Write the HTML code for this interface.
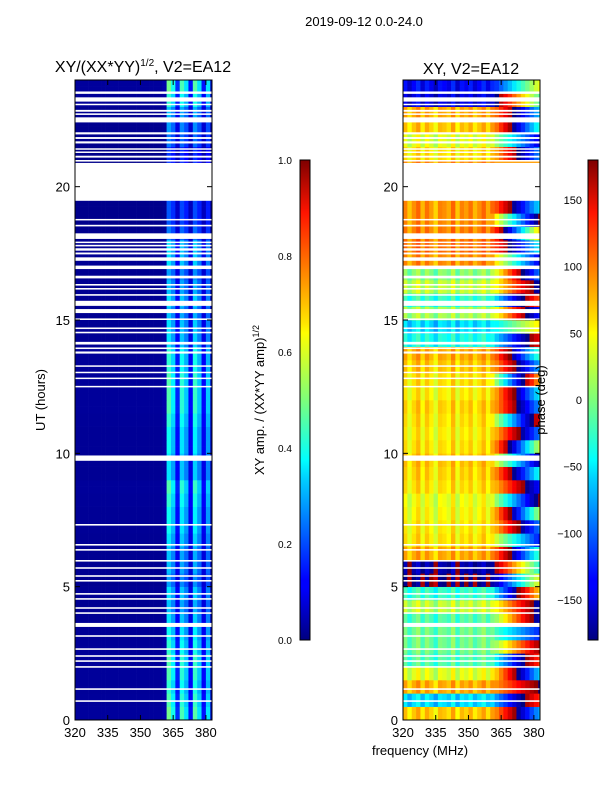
<!DOCTYPE html>
<html><head><meta charset="utf-8"><style>
body{margin:0;background:#fff;font-family:"Liberation Sans",sans-serif;}
svg text{font-family:"Liberation Sans",sans-serif;fill:#000;}
</style></head><body>
<svg id="fig" width="600" height="800" xmlns="http://www.w3.org/2000/svg">
<defs>
<linearGradient id="jet" x1="0" y1="1" x2="0" y2="0">
<stop offset="0" stop-color="#00007f"/><stop offset="0.11" stop-color="#0000ff"/><stop offset="0.125" stop-color="#0000ff"/>
<stop offset="0.34" stop-color="#00d4ff"/><stop offset="0.375" stop-color="#0ff"/><stop offset="0.5" stop-color="#7dff7a"/>
<stop offset="0.64" stop-color="#ff0"/><stop offset="0.66" stop-color="#ffe600"/><stop offset="0.89" stop-color="#ff1400"/><stop offset="1" stop-color="#7f0000"/>
</linearGradient>
</defs>
<text x="364" y="26" font-size="13" text-anchor="middle">2019-09-12 0.0-24.0</text>
<text x="143" y="72" font-size="16" text-anchor="middle">XY/(XX*YY)<tspan font-size="10" dy="-6">1/2</tspan><tspan dy="6">, V2=EA12</tspan></text>
<text x="471" y="74" font-size="16" text-anchor="middle">XY, V2=EA12</text>
<g id="left"></g>
<g id="right"></g>
<g id="axes"></g>
<rect x="300" y="160" width="10" height="480" fill="url(#jet)" stroke="#000" stroke-width="1"/>
<rect x="588" y="160" width="10" height="480" fill="url(#jet)" stroke="#000" stroke-width="1"/>
<text transform="translate(264,400) rotate(-90)" font-size="13" text-anchor="middle">XY amp. / (XX*YY amp)<tspan font-size="9" dy="-5">1/2</tspan></text>
<text transform="translate(545,400) rotate(-90)" font-size="13" text-anchor="middle">phase (deg)</text>
<text transform="translate(45,400) rotate(-90)" font-size="13" text-anchor="middle">UT (hours)</text>
<text x="420" y="755" font-size="13" text-anchor="middle">frequency (MHz)</text>
</svg>
<script>
const freqStart = 320, freqBin = 2;
const colAmp = [0.02,0.02,0.02,0.02,0.02,0.02,0.02,0.02,0.02,0.02,0.02,0.02,0.02,0.02,0.02,0.02,0.02,0.02,0.02,0.02,0.03,0.35,0.28,0.12,0.32,0.25,0.1,0.33,0.25,0.1,0.25,0.05];
const rowAmpScale = [1.4,1.3,1.2,1.3,1.3,1.2,1.1,1.0,0.9,1.0,0.8,0.9,0.9,1.0,1.1,1.1,1.2,1.3,1.0,1.0,1.1,1.1,1.2,1.3,1.3,1.3,1.2,1.2,1.0,1.0,0.9,1.0,0.9,0.8,1.0,1.0,0.7,0.6,0.6,0.6,0.5,0.5,0.5,0.7,0.8,0.9,1.2,1.4];
const phaseBase = [60,-60,70,30,-20,-10,-10,-20,20,-30,175,-170,70,50,45,40,35,50,55,60,50,45,50,55,45,50,60,70,-40,-60,10,-30,20,0,80,90,85,80,80,80,90,80,50,30,60,70,-150,-140];
const phaseSlope = [10,-8,5,12,-10,8,-5,10,8,-12,10,-10,12,-8,10,15,-10,8,12,-10,15,10,-12,10,12,-15,10,12,-8,5,10,-10,8,12,-10,10,15,-12,10,8,0,0,10,-8,12,10,-10,8];
const colPhaseOffset = [10,-15,5,20,-10,15,0,-20,10,5,-5,20,-15,10,0,15,-10,5,20,-5,10,0,0,0,0,0,0,0,0,0,0,0];
const flagStart = [23.48,23.19,23.07,22.81,22.69,22.41,21.96,21.79,21.62,21.39,21.29,21.09,20.94,19.47,18.74,18.51,18.04,17.89,17.76,17.60,17.46,17.22,16.91,16.56,16.29,16.14,15.91,15.53,15.26,15.00,14.66,14.50,14.08,13.91,13.74,13.25,13.02,12.80,12.48,9.72,7.29,6.54,6.35,5.94,5.67,5.37,5.19,4.70,4.51,4.17,3.98,3.49,3.12,2.63,2.37,2.18,1.96,1.13,0.68];
const flagEnd   = [23.57,23.35,23.11,22.88,22.75,22.60,22.04,21.86,21.70,21.44,21.32,21.16,21.00,20.89,18.79,18.57,18.25,17.94,17.82,17.69,17.53,17.35,17.04,16.66,16.35,16.20,15.97,15.72,15.41,15.06,14.72,14.56,14.18,13.97,13.82,13.30,13.06,12.84,12.53,9.92,7.35,6.60,6.41,6.00,5.73,5.43,5.25,4.76,4.57,4.23,4.04,3.64,3.18,2.69,2.43,2.24,2.02,1.19,0.74];
const xTicks = [320,335,350,365,380];
const yTicks = [0,5,10,15,20];
const ampTicks = [0.0,0.2,0.4,0.6,0.8,1.0];
const phaseTicks = [-150,-100,-50,0,50,100,150];

const NS='http://www.w3.org/2000/svg';
const X0L=75, X0R=403, W=137, YT=80, YB=720, FMAX=382.8;
function xs(f,x0){return x0+(f-freqStart)/(FMAX-freqStart)*W;}
function ys(h){return YB-(h/24)*(YB-YT);}
function jet(v){v=Math.max(0,Math.min(1,v));const c=t=>Math.round(255*Math.max(0,Math.min(1,1.5-Math.abs(4*v-t))));return `rgb(${c(3)},${c(2)},${c(1)})`;}
function mk(tag,at,parent){const e=document.createElementNS(NS,tag);for(const k in at)e.setAttribute(k,at[k]);parent.appendChild(e);return e;}
const L=document.getElementById('left'), R=document.getElementById('right'), A=document.getElementById('axes');
const nRows=96;
for(let r=0;r<nRows;r++){
  const h0=r*0.25, h1=h0+0.25, hi=Math.floor(r/2);
  for(let c=0;c<colAmp.length;c++){
    const f0=freqStart+c*freqBin, f1=Math.min(f0+freqBin,FMAX);
    if(f0>=FMAX)continue;
    const xa=xs(f0,X0L), xb=xs(f1,X0L), y0=ys(h1), y1=ys(h0);
    let v=colAmp[c]*rowAmpScale[hi];
    const e=mk('rect',{x:xa.toFixed(2),y:y0.toFixed(2),width:(xb-xa+0.3).toFixed(2),height:(y1-y0+0.3).toFixed(2),fill:jet(v)},L);
    
    
    const fm=(f0+f1)/2;
    let p=phaseBase[hi]+colPhaseOffset[c]+(fm>360?phaseSlope[hi]*(fm-360):0);
    p=((p+180)%360+360)%360-180;
    const xr=xs(f0,X0R), xr2=xs(f1,X0R);
    const e2=mk('rect',{x:xr.toFixed(2),y:y0.toFixed(2),width:(xr2-xr+0.3).toFixed(2),height:(y1-y0+0.3).toFixed(2),fill:jet((p+180)/360)},R);
    
    
  }
}
for(let i=0;i<flagStart.length;i++){
  for(const x0 of [X0L,X0R]){
    const y0=ys(flagEnd[i]), y1=ys(flagStart[i]);
    const e=mk('rect',{x:x0,y:y0.toFixed(2),width:W,height:Math.max(1.5,y1-y0).toFixed(2),fill:'#fff'},x0===X0L?L:R);
    
    
  }
}
for(const x0 of [X0L,X0R]){
  const fr=mk('rect',{x:x0,y:YT,width:W,height:YB-YT,fill:'none',stroke:'#000','stroke-width':1},A);
  
  
  for(const t of xTicks){
    const x=xs(t,x0);
    mk('line',{x1:x,x2:x,y1:YB,y2:YB-5,stroke:'#000'},A);
    mk('line',{x1:x,x2:x,y1:YT,y2:YT+5,stroke:'#000'},A);
    const tx=mk('text',{x:x,y:YB+17,'font-size':13,'text-anchor':'middle'},A);tx.textContent=t;
    
    
  }
  for(const t of yTicks){
    const y=ys(t);
    mk('line',{x1:x0,x2:x0+5,y1:y,y2:y,stroke:'#000'},A);
    mk('line',{x1:x0+W,x2:x0+W-5,y1:y,y2:y,stroke:'#000'},A);
    const tx=mk('text',{x:x0-5,y:y+5,'font-size':13,'text-anchor':'end'},A);tx.textContent=t;
    
    
  }
}
for(const t of ampTicks){
  const y=640-t*480;
  mk('line',{x1:306,x2:310,y1:y,y2:y,stroke:'#000'},A);
  const tx=mk('text',{x:278,y:y+4,'font-size':10},A);tx.textContent=t.toFixed(1);
  
  
}
for(const t of phaseTicks){
  const y=400-t*480/360;
  mk('line',{x1:594,x2:598,y1:y,y2:y,stroke:'#000'},A);
  const tx=mk('text',{x:582,y:y+4,'font-size':11,'text-anchor':'end'},A);tx.textContent=(t<0?'\u2212'+(-t):t);
  
  
}
</script>
</body></html>
